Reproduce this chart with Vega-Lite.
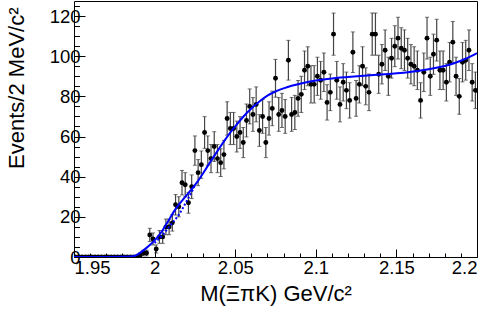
{
  "$schema": "https://vega.github.io/schema/vega-lite/v6.json",
  "autosize": "none",
  "width": 403,
  "height": 256,
  "padding": {"left": 74, "top": 1, "right": 13, "bottom": 56},
  "background": "white",
  "config": {
    "view": {"stroke": "black", "strokeWidth": 1},
    "font": "Liberation Sans",
    "axis": {"labelFont": "Liberation Sans", "titleFont": "Liberation Sans", "labelColor": "black", "titleColor": "black", "tickColor": "black", "titleFontWeight": "normal", "grid": false, "domain": false}
  },
  "datasets": {
    "hist": [
      {"m":1.951,"n":0,"err":0},{"m":1.953,"n":0,"err":0},{"m":1.955,"n":0,"err":0},{"m":1.957,"n":0,"err":0},{"m":1.959,"n":0,"err":0},
      {"m":1.961,"n":0,"err":0},{"m":1.963,"n":0,"err":0},{"m":1.965,"n":0,"err":0},{"m":1.967,"n":0,"err":0},{"m":1.969,"n":0,"err":0},
      {"m":1.971,"n":0,"err":0},{"m":1.973,"n":0,"err":0},{"m":1.975,"n":0,"err":0},{"m":1.977,"n":0,"err":0},{"m":1.979,"n":0,"err":0},
      {"m":1.981,"n":0,"err":0},{"m":1.983,"n":0,"err":0},{"m":1.985,"n":0,"err":0},{"m":1.987,"n":0,"err":0},{"m":1.989,"n":0,"err":0},
      {"m":1.991,"n":1,"err":1},{"m":1.993,"n":2,"err":1.4},{"m":1.995,"n":2,"err":1.4},{"m":1.997,"n":11,"err":3.3},{"m":1.999,"n":9,"err":3},
      {"m":2.001,"n":4,"err":2},{"m":2.003,"n":10,"err":3.2},{"m":2.005,"n":10,"err":3.2},{"m":2.007,"n":15,"err":3.9},{"m":2.009,"n":15,"err":3.9},
      {"m":2.011,"n":17,"err":4.1},{"m":2.013,"n":26,"err":5.1},{"m":2.015,"n":25,"err":5},{"m":2.017,"n":37,"err":6.1},{"m":2.019,"n":36,"err":6},
      {"m":2.021,"n":27,"err":5.2},{"m":2.023,"n":35,"err":5.9},{"m":2.025,"n":53,"err":7.3},{"m":2.027,"n":42,"err":6.5},{"m":2.029,"n":46,"err":6.8},
      {"m":2.031,"n":62,"err":7.9},{"m":2.033,"n":53,"err":7.3},{"m":2.035,"n":49,"err":7},{"m":2.037,"n":55,"err":7.4},{"m":2.039,"n":49,"err":7},
      {"m":2.041,"n":47,"err":6.9},{"m":2.043,"n":51,"err":7.1},{"m":2.045,"n":69,"err":8.3},{"m":2.047,"n":64,"err":8},{"m":2.049,"n":64,"err":8},
      {"m":2.051,"n":60,"err":7.7},{"m":2.053,"n":62,"err":7.9},{"m":2.055,"n":57,"err":7.5},{"m":2.057,"n":68,"err":8.2},{"m":2.059,"n":75,"err":8.7},
      {"m":2.061,"n":71,"err":8.4},{"m":2.063,"n":76,"err":8.7},{"m":2.065,"n":63,"err":7.9},{"m":2.067,"n":70,"err":8.4},{"m":2.069,"n":57,"err":7.5},
      {"m":2.071,"n":69,"err":8.3},{"m":2.073,"n":74,"err":8.6},{"m":2.075,"n":89,"err":9.4},{"m":2.077,"n":71,"err":8.4},{"m":2.079,"n":73,"err":8.5},
      {"m":2.081,"n":70,"err":8.4},{"m":2.083,"n":98,"err":9.9},{"m":2.085,"n":71,"err":8.4},{"m":2.087,"n":72,"err":8.5},{"m":2.089,"n":79,"err":8.9},
      {"m":2.091,"n":81,"err":9},{"m":2.093,"n":93,"err":9.6},{"m":2.095,"n":95,"err":9.7},{"m":2.097,"n":86,"err":9.3},{"m":2.099,"n":86,"err":9.3},
      {"m":2.101,"n":90,"err":9.5},{"m":2.103,"n":88,"err":9.4},{"m":2.105,"n":92,"err":9.6},{"m":2.107,"n":77,"err":8.8},{"m":2.109,"n":82,"err":9.1},
      {"m":2.111,"n":111,"err":10.5},{"m":2.113,"n":88,"err":9.4},{"m":2.115,"n":76,"err":8.7},{"m":2.117,"n":87,"err":9.3},{"m":2.119,"n":83,"err":9.1},
      {"m":2.121,"n":78,"err":8.8},{"m":2.123,"n":102,"err":10.1},{"m":2.125,"n":79,"err":8.9},{"m":2.127,"n":86,"err":9.3},{"m":2.129,"n":95,"err":9.7},
      {"m":2.131,"n":85,"err":9.2},{"m":2.133,"n":82,"err":9.1},{"m":2.135,"n":111,"err":10.5},{"m":2.137,"n":111,"err":10.5},{"m":2.139,"n":91,"err":9.5},
      {"m":2.141,"n":96,"err":9.8},{"m":2.143,"n":103,"err":10.1},{"m":2.145,"n":90,"err":9.5},{"m":2.147,"n":99,"err":9.9},{"m":2.149,"n":105,"err":10.2},
      {"m":2.151,"n":109,"err":10.4},{"m":2.153,"n":104,"err":10.2},{"m":2.155,"n":103,"err":10.1},{"m":2.157,"n":99,"err":9.9},{"m":2.159,"n":96,"err":9.8},
      {"m":2.161,"n":95,"err":9.7},{"m":2.163,"n":93,"err":9.6},{"m":2.165,"n":78,"err":8.8},{"m":2.167,"n":92,"err":9.6},{"m":2.169,"n":109,"err":10.4},
      {"m":2.171,"n":90,"err":9.5},{"m":2.173,"n":101,"err":10},{"m":2.175,"n":108,"err":10.4},{"m":2.177,"n":93,"err":9.6},{"m":2.179,"n":93,"err":9.6},
      {"m":2.181,"n":87,"err":9.3},{"m":2.183,"n":97,"err":9.8},{"m":2.185,"n":107,"err":10.3},{"m":2.187,"n":90,"err":9.5},{"m":2.189,"n":80,"err":8.9},
      {"m":2.191,"n":97,"err":9.8},{"m":2.193,"n":98,"err":9.9},{"m":2.195,"n":103,"err":10.1},{"m":2.197,"n":87,"err":9.3},{"m":2.199,"n":83,"err":9.1}
    ],
    "fit": [
      {"m":1.95,"y":0},{"m":1.985,"y":0},{"m":1.988,"y":0.5},{"m":1.991,"y":2},{"m":1.995,"y":4.5},{"m":2.0,"y":8},
      {"m":2.005,"y":13},{"m":2.01,"y":20},{"m":2.013,"y":24},{"m":2.016,"y":27},{"m":2.02,"y":31},{"m":2.025,"y":35.5},
      {"m":2.03,"y":41.5},{"m":2.035,"y":48},{"m":2.04,"y":54},{"m":2.045,"y":60},{"m":2.05,"y":65},{"m":2.055,"y":70},
      {"m":2.06,"y":74},{"m":2.065,"y":77.5},{"m":2.07,"y":80.5},{"m":2.075,"y":82.5},{"m":2.08,"y":84},{"m":2.085,"y":85.3},
      {"m":2.09,"y":86.3},{"m":2.1,"y":88},{"m":2.11,"y":89},{"m":2.12,"y":89.7},{"m":2.14,"y":90.8},{"m":2.16,"y":92.2},
      {"m":2.17,"y":93.5},{"m":2.18,"y":95},{"m":2.19,"y":97.5},{"m":2.2,"y":101.5}
    ],
    "comp": [
      {"m":2.0,"y":7},{"m":2.005,"y":11},{"m":2.01,"y":16},{"m":2.015,"y":21},{"m":2.02,"y":28},{"m":2.025,"y":35.5}
    ]
  },
  "resolve": {"axis": {"x": "independent", "y": "independent"}},
  "layer": [
    {
      "data": {"name": "hist"},
      "transform": [{"filter": "datum.n > 0"}],
      "mark": {"type": "errorbar", "ticks": {"size": 4, "color": "#333"}, "rule": {"color": "#444", "strokeWidth": 1.2}, "clip": true},
      "encoding": {
        "x": {"field": "m", "type": "quantitative", "scale": {"domain": [1.95, 2.2], "nice": false, "zero": false},
              "axis": {"orient": "bottom", "values": [1.96,1.97,1.98,1.99,2.01,2.02,2.03,2.04,2.06,2.07,2.08,2.09,2.11,2.12,2.13,2.14,2.16,2.17,2.18,2.19], "labels": false, "tickSize": -4, "title": null}},
        "y": {"field": "n", "type": "quantitative", "scale": {"domain": [0, 127.5], "nice": false},
              "axis": {"orient": "left", "values": [5,10,15,25,30,35,45,50,55,65,70,75,85,90,95,105,110,115,125], "labels": false, "tickSize": -5.5, "title": null}},
        "yError": {"field": "err"}
      }
    },
    {
      "data": {"name": "hist"},
      "mark": {"type": "point", "filled": true, "size": 24, "color": "black", "opacity": 1, "clip": true},
      "encoding": {
        "x": {"field": "m", "type": "quantitative",
              "axis": {"orient": "bottom", "values": [1.95, 2, 2.05, 2.1, 2.15, 2.2], "format": ".2~f", "tickSize": -8, "labelPadding": 9, "labelFontSize": 18.5,
                       "title": "M(ΞπK) GeV/c²", "titleFontSize": 22, "titleY": 43, "titleBaseline": "alphabetic"}},
        "y": {"field": "n", "type": "quantitative",
              "axis": {"orient": "left", "values": [0,20,40,60,80,100,120], "tickSize": -11, "labelPadding": 5, "labelFontSize": 18.5,
                       "title": "Events/2 MeV/c²", "titleFontSize": 22, "titleAnchor": "end", "titleAngle": -90, "titleAlign": "right", "titleBaseline": "alphabetic", "titleX": -51, "titleY": 6}}
      }
    },
    {
      "data": {"name": "fit"},
      "mark": {"type": "line", "color": "#0000ff", "strokeWidth": 2, "interpolate": "basis", "clip": true},
      "encoding": {
        "x": {"field": "m", "type": "quantitative", "axis": null},
        "y": {"field": "y", "type": "quantitative", "axis": null}
      }
    },
    {
      "data": {"name": "comp"},
      "mark": {"type": "line", "color": "#0000ff", "strokeWidth": 2, "strokeDash": [2, 2], "interpolate": "monotone", "clip": true},
      "encoding": {
        "x": {"field": "m", "type": "quantitative", "axis": null},
        "y": {"field": "y", "type": "quantitative", "axis": null}
      }
    }
  ]
}
